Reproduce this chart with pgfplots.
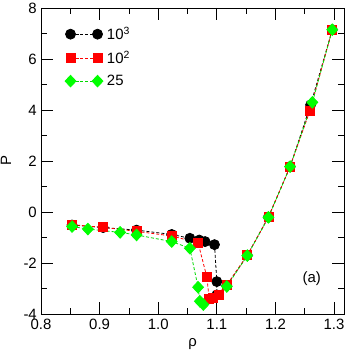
\documentclass[border=0pt]{standalone}
\usepackage{fontspec}
\setmainfont{Liberation Sans}
\usepackage{pgfplots}
\pgfplotsset{compat=1.18}
\definecolor{PtRed}{HTML}{FF0000}
\definecolor{PtGreen}{HTML}{00FF00}
\begin{document}
\begin{tikzpicture}
\begin{axis}[
  name=ax,
  scale only axis, width=303bp, height=306bp,
  xmin=0.8, xmax=1.317, ymin=-4, ymax=8,
  xtick={0.8,0.9,...,1.31}, ytick={-4,-2,...,8},
  minor x tick num=1, minor y tick num=1,
  xticklabel style={inner ysep=5bp,inner xsep=1bp,/pgf/number format/.cd,fixed,fixed zerofill,precision=1},
  yticklabel style={inner ysep=0bp},
  /pgf/number format/assume math mode=true,
  tick align=inside, major tick length=12bp, minor tick length=6bp,
  tick style={black,line width=0.8pt}, axis line style={line width=0.9pt},
  tick label style={font=\fontsize{15}{17}\selectfont, inner sep=4bp},
  xlabel={ρ}, ylabel={P},
  every axis x label/.style={at={(axis description cs:0.5,0)}, anchor=base,
    yshift=-33bp, inner sep=0pt, font=\fontsize{15}{17}\selectfont},
  every axis y label/.style={at={(axis description cs:-0.1155,0.5)}, rotate=90, anchor=center,
    inner sep=0pt, font=\fontsize{15}{17}\selectfont},
  legend style={draw=none, fill=none, at={(0.069,0.951)}, anchor=north west,
    font=\fontsize{15}{17}\selectfont, row sep=6bp,
    nodes={inner xsep=4bp}},
  legend cell align=left,
  legend image code/.code={\draw[#1] plot coordinates {(0bp,0bp) (27bp,0bp)};},
  every axis plot/.append style={line width=0.8pt, dash pattern=on 3pt off 2pt},
  clip=false,
]
\addplot[black, mark=*, mark size=5bp, mark options={solid}] coordinates {
(0.853,-0.51)(0.906,-0.61)(0.963,-0.71)(1.023,-0.88)(1.054,-1.03)(1.070,-1.10)
(1.080,-1.16)(1.096,-1.28)(1.100,-2.73)(1.100,-3.25)(1.117,-2.88)(1.152,-1.70)
(1.188,-0.20)(1.225,1.78)(1.260,4.20)(1.297,7.15)};
\addlegendentry{10\textsuperscript{3}}
\addplot[PtRed, mark=square*, mark size=4.5bp, mark options={solid}] coordinates {
(0.853,-0.50)(0.906,-0.60)(0.963,-0.76)(1.023,-0.94)(1.068,-1.21)(1.083,-2.55)
(1.087,-3.42)(1.094,-3.36)(1.103,-3.25)(1.117,-2.86)(1.152,-1.70)(1.188,-0.20)
(1.225,1.78)(1.259,3.98)(1.297,7.15)};
\addlegendentry{10\textsuperscript{2}}
\addplot[PtGreen!85!black, mark=diamond*, mark size=5.8bp, mark options={solid,xscale=1.25,fill=PtGreen,draw=PtGreen}] coordinates {
(0.853,-0.57)(0.880,-0.67)(0.935,-0.80)(0.963,-0.90)(1.023,-1.16)(1.054,-1.42)
(1.068,-2.95)(1.071,-3.50)(1.077,-3.63)(1.117,-2.92)(1.152,-1.71)(1.188,-0.21)
(1.225,1.78)(1.263,4.30)(1.297,7.15)};
\addlegendentry{25}
\node[font=\fontsize{15}{17}\selectfont] at (axis cs:1.262,-2.6) {(a)};
\end{axis}
\path ([xshift=-41bp,yshift=-39bp]ax.south west) rectangle ([xshift=5bp,yshift=8bp]ax.north east);
\end{tikzpicture}
\end{document}
